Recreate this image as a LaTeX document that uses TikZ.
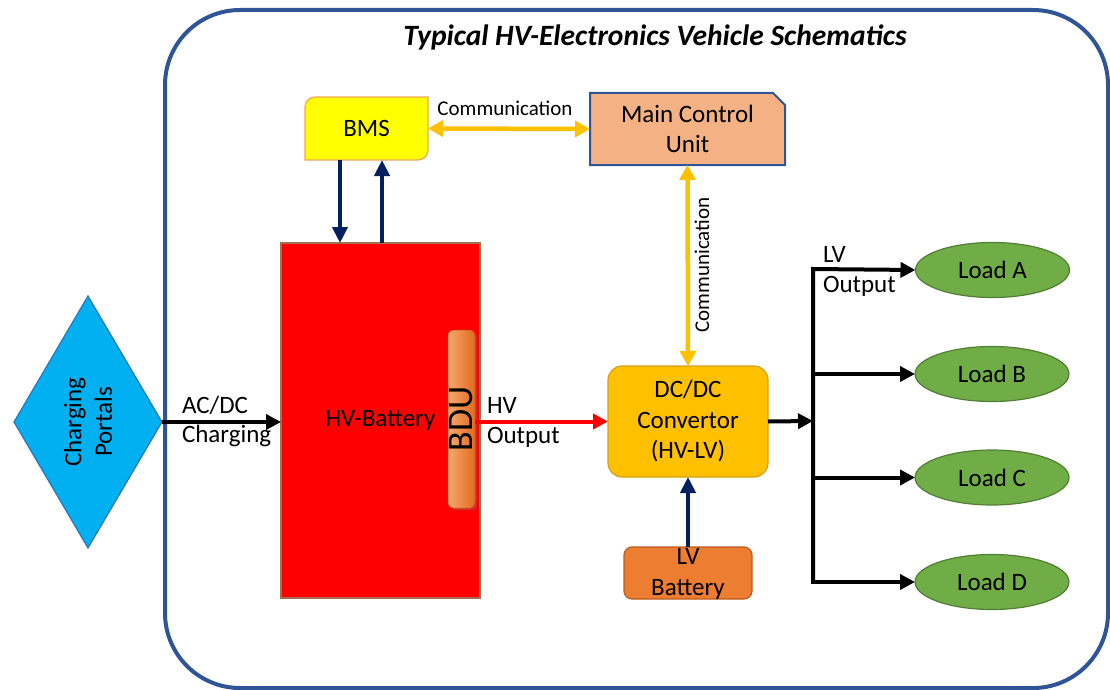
\documentclass[tikz,border=0pt]{standalone}
\usepackage{fontspec}
\setmainfont{Carlito}
\usetikzlibrary{arrows.meta,shapes.geometric,shapes.misc,shadows,backgrounds}

\definecolor{frameblue}{HTML}{2F5597}
\definecolor{portalfill}{HTML}{00B0F0}
\definecolor{portalline}{HTML}{2E75B6}
\definecolor{battred}{HTML}{FF0000}
\definecolor{battline}{HTML}{A07050}
\definecolor{bduleft}{HTML}{F4A870}
\definecolor{bduright}{HTML}{E46A1E}
\definecolor{bmsfill}{HTML}{FFFF00}
\definecolor{bmsline}{HTML}{F4A460}
\definecolor{commorange}{HTML}{FFC000}
\definecolor{mcufill}{HTML}{F4B183}
\definecolor{navyline}{HTML}{002060}
\definecolor{dcdcline}{HTML}{D4A017}
\definecolor{lvfill}{HTML}{ED7D31}
\definecolor{lvline}{HTML}{B85C20}
\definecolor{loadfill}{HTML}{70AD47}
\definecolor{loadline}{HTML}{507E32}

\tikzset{
  basefont/.style={font=\fontsize{25}{30.5}\selectfont, inner sep=0pt, outer sep=0pt},
  framebox/.style={draw=frameblue, line width=4pt, rounded corners=75pt},
  portalshape/.style={diamond, draw=portalline, line width=1.2pt, fill=portalfill,
    minimum width=148pt, minimum height=252pt, inner sep=0pt, outer sep=0pt},
  battbox/.style={rectangle, draw=battline, line width=1.2pt, fill=battred,
    minimum width=199pt, minimum height=355pt, basefont},
  bdubox/.style={rectangle, rounded corners=5pt, left color=bduleft, right color=bduright,
    draw=bduright!85!black, line width=0.5pt, minimum width=27pt, minimum height=178pt,
    inner sep=0pt, outer sep=0pt,
    drop shadow={opacity=0.35, shadow xshift=2pt, shadow yshift=-2pt}},
  bmsbox/.style={rectangle, minimum width=123pt, minimum height=63pt, basefont},
  bmsshape/.style={draw=bmsline, line width=1.2pt, fill=bmsfill},
  mcubox/.style={chamfered rectangle, chamfered rectangle corners=north east,
    chamfered rectangle xsep=6pt, chamfered rectangle ysep=6pt,
    draw=frameblue, line width=2pt, fill=mcufill,
    minimum width=195pt, minimum height=72pt, basefont, align=center},
  dcdcbox/.style={rectangle, rounded corners=14pt, draw=dcdcline, line width=1.2pt,
    fill=commorange, minimum width=160pt, minimum height=111pt, basefont, align=center},
  lvbox/.style={rectangle, rounded corners=8pt, draw=lvline, line width=1.2pt,
    fill=lvfill, minimum width=128pt, minimum height=52pt, inner sep=0pt, outer sep=0pt},
  loadshape/.style={ellipse, draw=loadline, line width=1.2pt, fill=loadfill,
    minimum width=154pt, minimum height=55pt, basefont},
  labeltext/.style={basefont},
  commtext/.style={font=\fontsize{21}{25}\selectfont, inner sep=0pt},
  navyarr/.style={draw=navyline, line width=4.5pt, -{Triangle[length=16pt,width=15pt]}},
  commarr/.style={draw=commorange, line width=4.5pt,
    {Triangle[length=15pt,width=16pt]}-{Triangle[length=15pt,width=16pt]}},
  blkarr/.style={draw=black, line width=4pt, -{Triangle[length=15pt,width=15pt]}},
  blkline/.style={draw=black, line width=4pt, line join=miter},
  redarr/.style={draw=battred, line width=4pt, -{Triangle[length=15pt,width=15pt]}},
}

\begin{document}
\begin{tikzpicture}[x=1pt, y=-1pt]
\useasboundingbox (0,0) rectangle (1110,690);

% outer vehicle frame and title
\draw[framebox] (165,10) rectangle (1108,688);
\node[font=\fontsize{29.5}{34}\selectfont\bfseries\itshape, inner sep=0pt, anchor=base]
  (title) at (655,46) {Typical HV-Electronics Vehicle Schematics};

% charging portals
\node[portalshape] (cp) at (88,422) {};
\node[basefont, rotate=90, align=center] (cplabel) at (cp.center) {Charging\\Portals};

% HV battery with BDU
\node[battbox] (hvb) at (380.5,420.5) {HV-Battery};
\node[bdubox] (bdu) at (461.5,419) {};
\node[font=\fontsize{36}{40}\selectfont, inner sep=0pt, rotate=90] (bdulabel) at (bdu.center) {BDU};

% BMS (rounded top-left and bottom-right corners)
\node[bmsbox] (bms) at (366.5,128.5) {BMS};
\begin{pgfonlayer}{background}
\path[bmsshape] ([xshift=10pt]bms.north west) -- (bms.north east)
  -- ([yshift=10pt]bms.south east) arc[start angle=0, end angle=-90, radius=10pt]
  -- (bms.south west) -- ([yshift=-10pt]bms.north west)
  arc[start angle=180, end angle=90, radius=10pt] -- cycle;
\end{pgfonlayer}

% main control unit
\node[mcubox] (mcu) at (687.5,129) {Main Control\\Unit};

% DC/DC convertor and LV battery
\node[dcdcbox] (dcdc) at (688,421.5) {DC/DC\\Convertor\\(HV-LV)};
\node[lvbox] (lvb) at (688,573) {};
\node[basefont, align=center] (lvlabel) at ([yshift=-1pt]lvb.center) {LV\\Battery};

% loads
\node[loadshape] (la) at (992.5,270) {Load A};
\node[loadshape] (lb) at (992,374) {Load B};
\node[loadshape] (lc) at (992,477.5) {Load C};
\node[loadshape] (ld) at (992,582) {Load D};

% LV distribution bus
\coordinate (j1) at (813,269);
\coordinate (j2) at (813,374);
\coordinate (jm) at (813,421);
\coordinate (j3) at (813,477.5);
\coordinate (j4) at (813,582);

% connectors
\draw[blkarr] (cp.east) -- (cp.east -| hvb.west);
\node[labeltext, anchor=base west] (acdc) at (182,413) {AC/DC};
\node[labeltext, anchor=base west] (chg) at (182,442) {Charging};

\draw[redarr] (bdu.east |- dcdc.west) -- (dcdc.west);
\node[labeltext, anchor=base west] (hvl) at (487,413) {HV};
\node[labeltext, anchor=base west] (hvo) at (487,443) {Output};

\coordinate (dn) at (340,0);
\coordinate (up) at (382,0);
\draw[navyarr] (dn |- bms.south) -- (dn |- hvb.north);
\draw[navyarr] (up |- hvb.north) -- (up |- bms.south);

\draw[commarr] (bms.east) -- (mcu.west);
\node[commtext, anchor=base] (comm1) at (505,116) {Communication};
\draw[commarr] (mcu.south) -- (dcdc.north);
\node[commtext, rotate=90] (comm2) at (702,265) {Communication};

\draw[navyarr] (lvb.north) -- (dcdc.south);

\draw[blkarr] (dcdc.east) -- (jm);
\draw[blkline, -{Triangle[length=15pt,width=15pt]}] (j4) -- (j1) -- (la.west);
\draw[blkline, -{Triangle[length=15pt,width=15pt]}] (j1) -- (j4) -- (ld.west);
\draw[blkarr] (j2) -- (lb.west);
\draw[blkarr] (j3) -- (lc.west);
\node[labeltext, anchor=base west] (lvl) at (823,262) {LV};
\node[labeltext, anchor=base west] (lvo) at (823,292) {Output};

\end{tikzpicture}
\end{document}
